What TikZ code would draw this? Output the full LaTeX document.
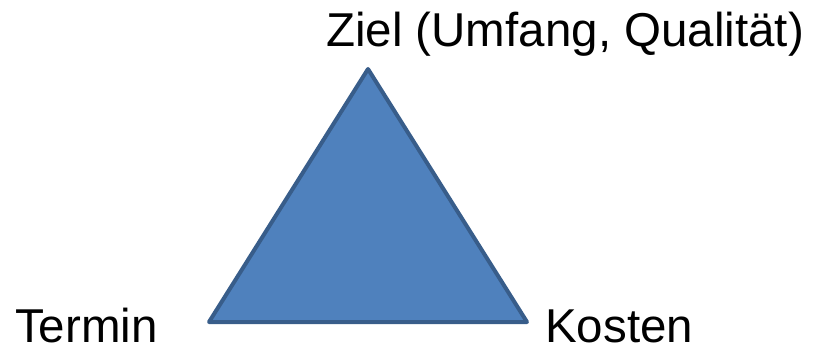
\documentclass[tikz,border=0pt]{standalone}
\usepackage{fontspec}
\setmainfont{Liberation Sans}
\definecolor{triFill}{HTML}{4F81BD}
\definecolor{triLine}{HTML}{385D8A}
\begin{document}
\begin{tikzpicture}[x=1pt,y=-1pt,
  label text/.style={font=\fontsize{47.5}{52}\selectfont, inner sep=0pt, anchor=base west},
  tri/.style={fill=triFill, draw=triLine, line width=4pt, line join=round}]
\useasboundingbox (0,0) rectangle (813,350);
% corners of the triangle
\coordinate (top) at (368,69);
\coordinate (left) at (209,322);
\coordinate (right) at (527,322);
\draw[tri] (top) -- (left) -- (right) -- cycle;
% corner labels
\node[label text] (goal) at (326,47) {Ziel (Umfang, Qualität)};
\node[label text, text depth=0pt] (date) at (15,342) {Termin};
\node[label text, text depth=0pt] (cost) at (545,342) {Kosten};
\end{tikzpicture}
\end{document}
